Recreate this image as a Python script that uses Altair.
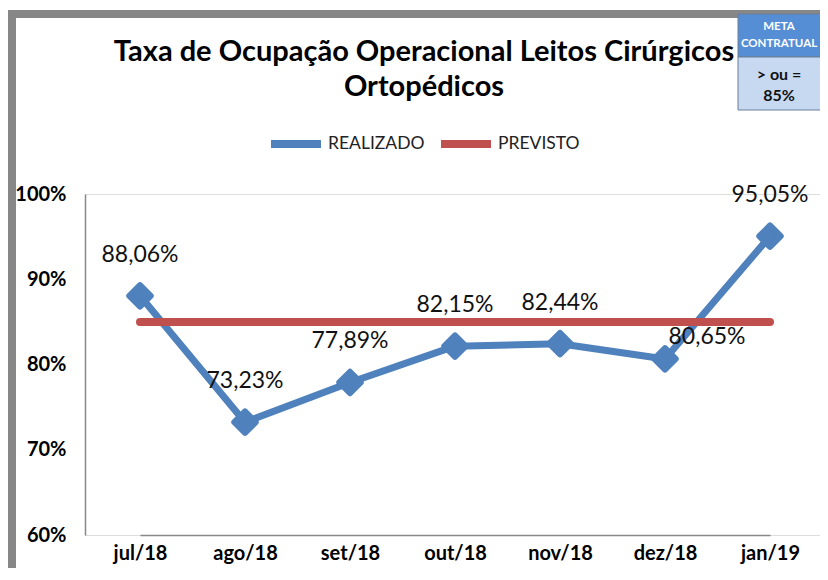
import altair as alt
import pandas as pd

months = ["jul/18", "ago/18", "set/18", "out/18", "nov/18", "dez/18", "jan/19"]
realizado = [0.8806, 0.7323, 0.7789, 0.8215, 0.8244, 0.8065, 0.9505]
previsto = [0.85, 0.85, 0.85, 0.85, 0.85, 0.85, 0.85]
series_names = ["REALIZADO", "PREVISTO"]
title_lines = ["Taxa de Ocupação Operacional Leitos Cirúrgicos", "Ortopédicos"]
meta_head = ["META", "CONTRATUAL"]
meta_body = ["> ou =", "85%"]

BLUE = "#4F81BD"
RED = "#C0504D"
FONT = "Lato"

rows = []
for m, v in zip(months, realizado):
    rows.append({"month": m, "value": v, "series": "REALIZADO",
                 "label": f"{v*100:.2f}".replace(".", ",") + "%"})
for m, v in zip(months, previsto):
    rows.append({"month": m, "value": v, "series": "PREVISTO", "label": ""})
df = pd.DataFrame(rows)

x = alt.X("month:N", sort=months,
          scale=alt.Scale(type="point", range=[55, 685], padding=0),
          axis=alt.Axis(title=None, labelAngle=0, ticks=False, labelPadding=8,
                        labelFontSize=20, labelFontWeight="bold", labelFont=FONT,
                        labelColor="#000", domainColor="#888888", domainWidth=1.5,
                        grid=False))
y = alt.Y("value:Q",
          scale=alt.Scale(domain=[0.6, 1.0], nice=False, zero=False),
          axis=alt.Axis(title=None, format=".0%", values=[0.6, 0.7, 0.8, 0.9, 1.0],
                        grid=False, ticks=False, labelPadding=19, labelFontSize=20,
                        labelFontWeight="bold", labelFont=FONT, labelColor="#000",
                        domainColor="#888888", domainWidth=1.5))
color = alt.Color("series:N",
                  scale=alt.Scale(domain=series_names, range=[BLUE, RED]),
                  legend=alt.Legend(orient="none", legendX=182, legendY=-79,
                                    direction="horizontal", title=None,
                                    symbolType="stroke", symbolSize=2500,
                                    symbolStrokeWidth=8, labelFontSize=17.5,
                                    labelFont=FONT, labelColor="#222",
                                    columnPadding=0, labelOffset=3))

base = alt.Chart(df)

blue_line = base.transform_filter(alt.datum.series == "REALIZADO").mark_line(
    strokeWidth=7, strokeJoin="round").encode(x=x, y=y, color=color)
red_line = base.transform_filter(alt.datum.series == "PREVISTO").mark_line(
    strokeWidth=8, strokeCap="round").encode(x=x, y=y, color=color)
points = base.transform_filter(alt.datum.series == "REALIZADO").mark_point(
    shape="diamond", filled=True, size=460, color=BLUE, stroke=BLUE,
    strokeWidth=6, strokeJoin="round", opacity=1).encode(x=x, y=y)
labels = base.transform_filter(
    (alt.datum.series == "REALIZADO") & (alt.datum.month != "dez/18")
).mark_text(fontSize=23, font=FONT, dy=-41, color="#111").encode(
    x=x, y=y, text="label:N")
label_dez = base.transform_filter(
    (alt.datum.series == "REALIZADO") & (alt.datum.month == "dez/18")
).mark_text(fontSize=23, font=FONT, dx=42, dy=-22, color="#111").encode(
    x=x, y=y, text="label:N")

one = pd.DataFrame({"k": [0]})
frame = alt.Chart(one).mark_rect(fillOpacity=0, stroke="#878787", strokeWidth=8).encode(
    x=alt.value(-73), x2=alt.value(900), y=alt.value(-180), y2=alt.value(700))
title1 = alt.Chart(one).mark_text(text=title_lines[0], font=FONT, fontSize=29,
                                  fontWeight="bold", color="#000",
                                  baseline="alphabetic").encode(
    x=alt.value(339), y=alt.value(-133))
title2 = alt.Chart(one).mark_text(text=title_lines[1], font=FONT, fontSize=29,
                                  fontWeight="bold", color="#000",
                                  baseline="alphabetic").encode(
    x=alt.value(339), y=alt.value(-98))
box_top = alt.Chart(one).mark_rect(fill="#558ED5", stroke="#6b7f99", strokeWidth=1).encode(
    x=alt.value(653), x2=alt.value(780), y=alt.value(-180), y2=alt.value(-137))
box_bot = alt.Chart(one).mark_rect(fill="#C6D9F1", stroke="#6b7f99", strokeWidth=1).encode(
    x=alt.value(653), x2=alt.value(780), y=alt.value(-137), y2=alt.value(-84))
meta_h1 = alt.Chart(one).mark_text(text=meta_head[0], font=FONT, fontSize=11.5,
                                   fontWeight="bold", color="white").encode(
    x=alt.value(694), y=alt.value(-167))
meta_h2 = alt.Chart(one).mark_text(text=meta_head[1], font=FONT, fontSize=11.5,
                                   fontWeight="bold", color="white").encode(
    x=alt.value(694), y=alt.value(-150))
meta_b1 = alt.Chart(one).mark_text(text=meta_body[0], font=FONT, fontSize=16,
                                   fontWeight="bold", color="#111").encode(
    x=alt.value(694), y=alt.value(-119))
meta_b2 = alt.Chart(one).mark_text(text=meta_body[1], font=FONT, fontSize=16,
                                   fontWeight="bold", color="#111").encode(
    x=alt.value(694), y=alt.value(-98))

chart = alt.layer(
    frame, title1, title2, blue_line, red_line, points, labels, label_dez,
    box_top, box_bot, meta_h1, meta_h2, meta_b1, meta_b2
).properties(
    width=735, height=341,
    padding={"left": 77, "top": 186, "right": 0, "bottom": 33},
    autosize=alt.AutoSizeParams(type="none"),
).configure_view(stroke=None).configure(background="white")

chart.save("out.html", embed_options={"renderer": "svg", "actions": False})
